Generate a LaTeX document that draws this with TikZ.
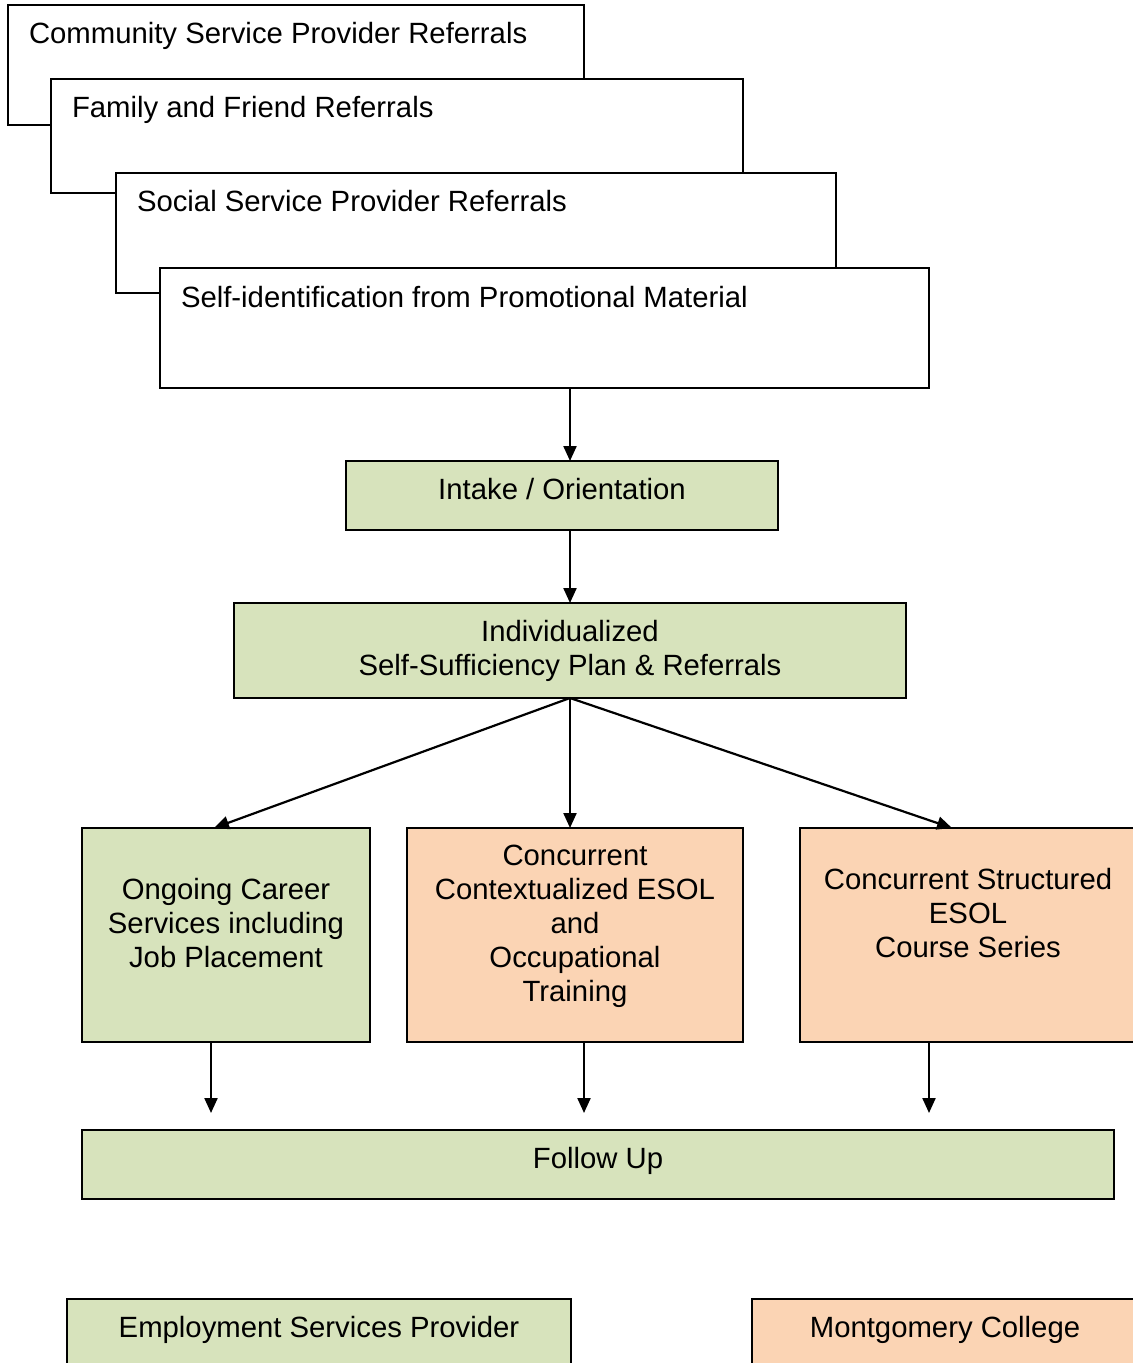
\documentclass[tikz,border=0pt]{standalone}
\usepackage{fontspec}
\setmainfont{Liberation Sans}
\usetikzlibrary{arrows.meta}
\definecolor{boxgreen}{HTML}{D7E3BC}
\definecolor{boxorange}{HTML}{FBD4B4}
\begin{document}
\begin{tikzpicture}[x=0.5pt,y=-0.5pt,
  every node/.style={inner sep=0pt,outer sep=0pt},
  ref/.style={draw=black,line width=1pt,fill=white,rectangle},
  gbox/.style={draw=black,line width=1pt,fill=boxgreen,rectangle},
  obox/.style={draw=black,line width=1pt,fill=boxorange,rectangle},
  txt/.style={align=center,font=\fontsize{14.65}{17}\selectfont},
  ltxt/.style={anchor=base west,font=\fontsize{14.65}{17}\selectfont},
  arr/.style={line width=1.1pt,-{Triangle[length=7.5pt,width=6.5pt]}}]
\useasboundingbox (0,0) rectangle (1133,1363);
\clip (0,0) rectangle (1133,1363);
% stacked referral boxes
\node[ref,minimum width=288pt,minimum height=60pt] (b1) at (296,65) {};
\node[ltxt] (t1) at (29,44) {Community Service Provider Referrals};
\node[ref,minimum width=346pt,minimum height=57pt] (b2) at (397,136) {};
\node[ltxt] (t2) at (72,118) {Family and Friend Referrals};
\node[ref,minimum width=360pt,minimum height=60pt] (b3) at (476,233) {};
\node[ltxt] (t3) at (137,212) {Social Service Provider Referrals};
\node[ref,minimum width=384.5pt,minimum height=60pt] (b4) at (544.5,328) {};
\node[ltxt] (t4) at (181,308) {Self-identification from Promotional Material};
% flow boxes
\node[gbox,minimum width=216pt,minimum height=34.5pt] (intake) at (562,495.5) {};
\node[txt] (intakeT) at (562,489) {Intake / Orientation};
\node[gbox,minimum width=336pt,minimum height=47.5pt] (ind) at (570,650.5) {};
\node[txt] (indT) at (570,650.5) {Individualized\\Self-Sufficiency Plan \& Referrals};
\node[gbox,minimum width=144pt,minimum height=107pt] (ong) at (226,935) {};
\node[txt] (ongT) at (226,923) {Ongoing Career\\Services including\\Job Placement};
\node[obox,minimum width=168pt,minimum height=107pt] (ctx) at (575,935) {};
\node[txt] (ctxT) at (575,926) {Concurrent\\Contextualized ESOL\\and\\Occupational\\Training};
\node[obox,minimum width=170pt,minimum height=107pt] (str) at (970,935) {};
\node[txt] (strT) at (968,913.5) {Concurrent Structured\\ESOL\\Course Series};
\node[gbox,minimum width=516pt,minimum height=34.5pt] (fu) at (598,1164.5) {};
\node[txt] (fuT) at (598,1161) {Follow Up};
% legend
\node[gbox,minimum width=252pt,minimum height=40.5pt] (emp) at (319,1339.5) {};
\node[txt] (empT) at (319,1330) {Employment Services Provider};
\node[obox,minimum width=194pt,minimum height=40.5pt] (mc) at (946,1339.5) {};
\node[txt] (mcT) at (945,1330) {Montgomery College};
% connector coordinates
\coordinate (ongIn) at (214,828);
\coordinate (strIn) at (952,828);
\coordinate (e1) at (211,1113);
\coordinate (e2) at (584,1113);
\coordinate (e3) at (929,1113);
% connectors
\draw[arr] (b4.south -| ind) -- (intake.north -| ind);
\draw[arr] (intake.south -| ind) -- (ind.north);
\draw[arr] (ind.south) -- (ongIn);
\draw[arr] (ind.south) -- (ctx.north -| ind);
\draw[arr] (ind.south) -- (strIn);
\draw[arr] (ong.south -| e1) -- (e1);
\draw[arr] (ctx.south -| e2) -- (e2);
\draw[arr] (str.south -| e3) -- (e3);
\end{tikzpicture}
\end{document}
